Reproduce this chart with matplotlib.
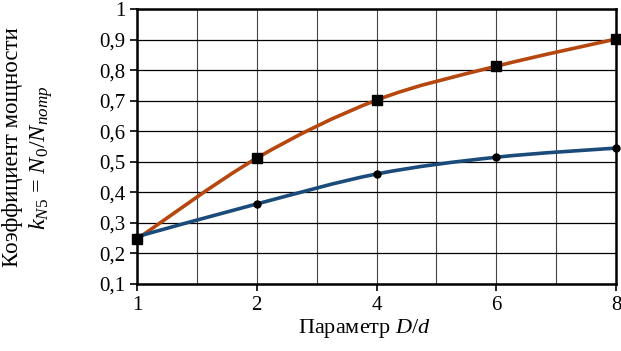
import matplotlib
matplotlib.use("Agg")
import matplotlib.pyplot as plt
from matplotlib.path import Path
from matplotlib.patches import PathPatch
from matplotlib.ticker import FuncFormatter, MultipleLocator

categories = ["1", "2", "4", "6", "8"]
k_upper = [0.247, 0.512, 0.702, 0.813, 0.902]
k_lower = [0.255, 0.362, 0.460, 0.515, 0.545]

plt.rcParams['font.family'] = ['Liberation Serif', 'DejaVu Serif']
plt.rcParams['mathtext.fontset'] = 'custom'
plt.rcParams['mathtext.rm'] = 'Liberation Serif'
plt.rcParams['mathtext.it'] = 'Liberation Serif:italic'


def smooth_path(xs, ys):
    # Excel-style smoothed line: cubic Bezier segments through the points
    n = len(xs)
    verts = [(xs[0], ys[0])]
    codes = [Path.MOVETO]
    for i in range(n - 1):
        x0, y0 = (xs[i - 1], ys[i - 1]) if i > 0 else (xs[i], ys[i])
        x1, y1 = xs[i], ys[i]
        x2, y2 = xs[i + 1], ys[i + 1]
        x3, y3 = (xs[i + 2], ys[i + 2]) if i + 2 < n else (x2, y2)
        c1 = (x1 + (x2 - x0) / 6, y1 + (y2 - y0) / 6)
        c2 = (x2 - (x3 - x1) / 6, y2 - (y3 - y1) / 6)
        verts += [c1, c2, (x2, y2)]
        codes += [Path.CURVE4] * 3
    return Path(verts, codes)


fig = plt.figure(figsize=(6.21, 3.51), dpi=100)
ax = fig.add_axes([0.2206, 0.191, 0.7714, 0.783])

xpos = list(range(len(categories)))
ax.add_patch(PathPatch(smooth_path(xpos, k_upper), fill=False, edgecolor='#B5470F', lw=2.6, zorder=3, clip_on=False))
ax.add_patch(PathPatch(smooth_path(xpos, k_lower), fill=False, edgecolor='#1B4B7A', lw=2.6, zorder=3, clip_on=False))
ax.plot(xpos, k_upper, ls='none', marker='s', ms=7, color='black', zorder=4, clip_on=False)
ax.plot(xpos, k_lower, ls='none', marker='o', ms=5, color='black', zorder=4, clip_on=False)

ax.set_xlim(0, len(categories) - 1)
ax.set_ylim(0.1, 1.0)
ax.set_xticks(xpos)
ax.set_xticklabels(categories)
ax.xaxis.set_minor_locator(MultipleLocator(0.5))
ax.yaxis.set_major_locator(MultipleLocator(0.1))
ax.yaxis.set_major_formatter(FuncFormatter(lambda v, p: f"{v:.1f}".replace(".", ",").replace("1,0", "1")))

ax.grid(True, axis='y', color='black', lw=0.9)
ax.grid(True, axis='x', which='both', color='#444444', lw=0.8)
ax.tick_params(axis='both', which='major', direction='out', length=5, width=1.2, labelsize=15, color='black')
ax.tick_params(axis='x', which='minor', length=0)
ax.tick_params(axis='x', pad=4)
for s in ax.spines.values():
    s.set_linewidth(1.8)

ax.set_xlabel("Параметр $\\mathit{D/d}$", fontsize=16, labelpad=2)
ax.xaxis.set_label_coords(0.475, -0.12)
fig.text(0.02, 0.58, "Коэффициент мощности", rotation=90, fontsize=16.5, ha='center', va='center')
fig.text(0.066, 0.55, "$\\mathit{k_{N5}}$ = $\\mathit{N_0/N_{потр}}$", rotation=90, fontsize=17.5, ha='center', va='center')

fig.savefig("out.png", dpi=100)
